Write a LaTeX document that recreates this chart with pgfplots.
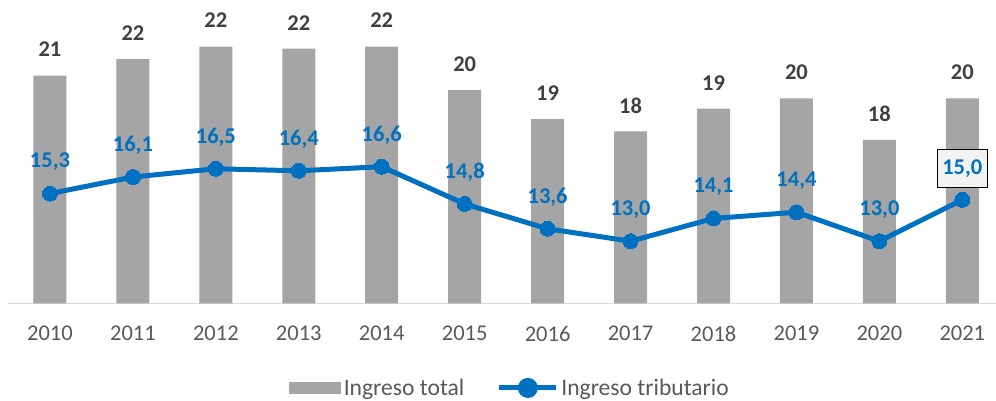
\documentclass[border=0pt]{standalone}
\usepackage{pgfplots}
\usepackage{pgfplotstable}
\usepackage{fontspec}
\setmainfont{Carlito}
\pgfplotsset{compat=1.18}
\definecolor{barc}{HTML}{A5A5A5}
\definecolor{linec}{HTML}{0070C0}
\definecolor{tickc}{HTML}{595959}
\definecolor{barlab}{HTML}{404040}
\definecolor{axc}{HTML}{D9D9D9}
\definecolor{boxfill}{HTML}{F2F2F2}
\pgfplotstableread{
x year tot totl trib tribl
0 2010 21.0 21 15.3 15,3
1 2011 21.8 22 16.1 16,1
2 2012 22.4 22 16.5 16,5
3 2013 22.3 22 16.4 16,4
4 2014 22.4 22 16.6 16,6
5 2015 20.3 20 14.8 14,8
6 2016 18.9 19 13.6 13,6
7 2017 18.3 18 13.0 13,0
8 2018 19.4 19 14.1 14,1
9 2019 19.9 20 14.4 14,4
10 2020 17.9 18 13.0 13,0
11 2021 19.9 20 15.0 15,0
}\data
\newcommand{\fs}{\fontsize{22.5}{27}\selectfont}
\newcommand{\fl}{\fontsize{23.6}{28}\selectfont}
\begin{document}
\begin{tikzpicture}
\useasboundingbox (0,0) rectangle (996pt,401pt);
\begin{axis}[
  at={(8.5pt,97.7pt)}, anchor=south west,
  scale only axis, width=987pt, height=300.15pt,
  xmin=-0.5, xmax=11.4, ymin=10, ymax=24.5,
  enlargelimits=false,
  axis y line=none, axis x line=bottom,
  x axis line style={-, color=axc, line width=1.5pt},
  xtick={0,...,11},
  xticklabels={2010,2011,2012,2013,2014,2015,2016,2017,2018,2019,2020,2021},
  major tick length=0pt,
  xticklabel style={font=\fs, text=tickc, yshift=-19pt},
  /pgf/number format/assume math mode=true,
  legend columns=-1,
  legend style={draw=none, fill=none, font=\fl, text=tickc,
    at={(0.5084,-0.282)}, anchor=center,
    /tikz/every even column/.append style={column sep=0pt},
    nodes={inner xsep=2.5pt, inner ysep=0pt}},
]
\addplot[ybar, bar width=33pt, fill=barc, draw=none,
  nodes near coords, point meta=explicit symbolic,
  every node near coord/.append style={font=\fs\bfseries, text=barlab, anchor=center, yshift=26pt},
  legend image code/.code={\fill[barc] (0pt,-6.35pt) rectangle (52pt,6.35pt);}]
  table[x=x, y=tot, meta=totl]{\data};
\addlegendentry{Ingreso total\rule{30pt}{0pt}}
\addplot[color=linec, line width=5pt, mark=*, mark size=7.5pt, mark options={fill=linec, draw=linec, line width=0pt},
  legend image code/.code={\draw[linec, line width=5pt] (0pt,0pt) -- (57pt,0pt); \fill[linec] (28.5pt,0pt) circle (7.5pt);}]
  table[x=x, y=trib]{\data};
\addlegendentry{Ingreso tributario}
\addplot[draw=none, mark=none, forget plot, skip coords between index={11}{12},
  nodes near coords, point meta=explicit symbolic,
  every node near coord/.append style={font=\fs\bfseries, text=linec, anchor=center, yshift=31.5pt}]
  table[x=x, y=trib, meta=tribl]{\data};
\addplot[draw=none, mark=none, forget plot, skip coords between index={0}{11},
  nodes near coords, point meta=explicit symbolic,
  every node near coord/.append style={font=\fs\bfseries, text=linec, anchor=center, yshift=31.5pt,
    draw=black, line width=1pt, fill=boxfill, minimum width=50pt, minimum height=38pt, inner sep=0pt}]
  table[x=x, y=trib, meta=tribl]{\data};
\end{axis}
\end{tikzpicture}
\end{document}
